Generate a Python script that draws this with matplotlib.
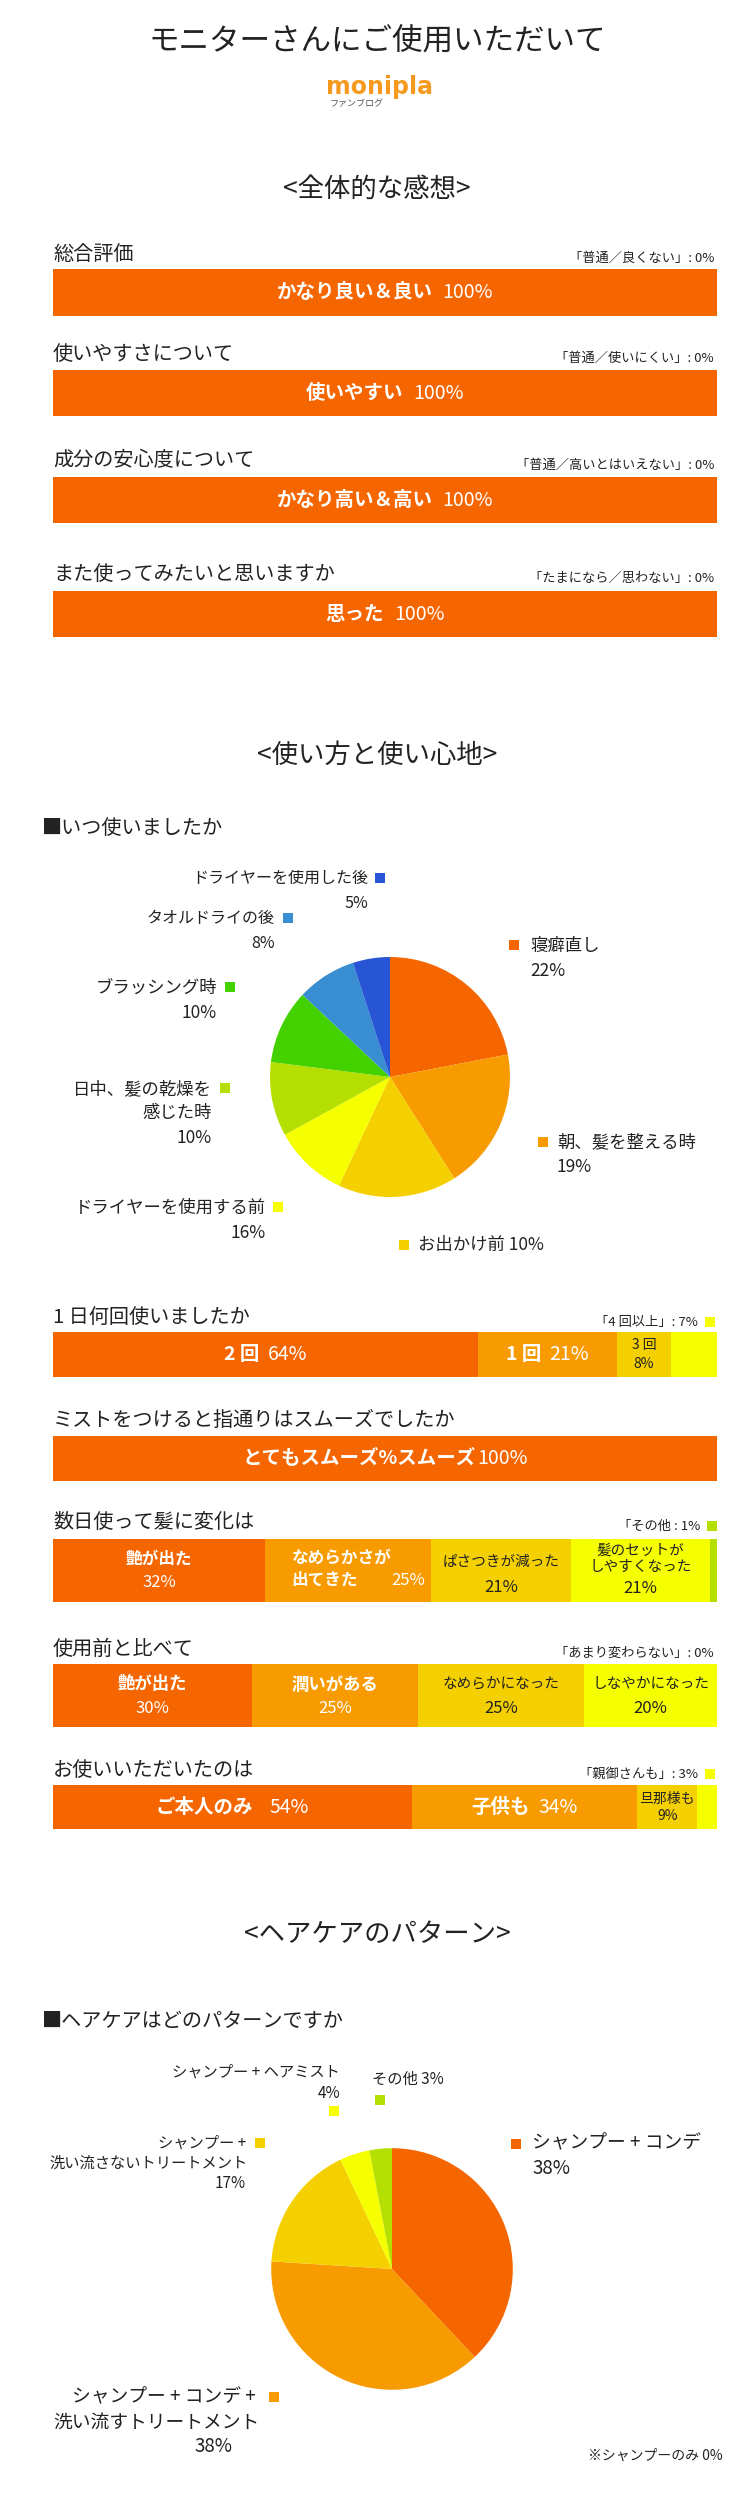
import matplotlib
matplotlib.use("Agg")
import matplotlib.pyplot as plt
import numpy as np

plt.rcParams['font.family'] = 'Noto Sans CJK JP'

W, H = 755, 2507
ORANGE = '#F56600'; LORANGE = '#F79B00'; GOLD = '#F5D000'; YELLOW = '#F5FF00'
YGREEN = '#B5DF00'; GREEN = '#44D100'; BLUE = '#388ED0'; DBLUE = '#2855D5'
DARK = '#222222'

# ---------------- data ----------------
overall_questions = ['総合評価', '使いやすさについて', '成分の安心度について', 'また使ってみたいと思いますか']
overall_answers = ['かなり良い＆良い', '使いやすい', 'かなり高い＆高い', '思った']
overall_values = [100, 100, 100, 100]
overall_notes = ['「普通／良くない」: 0%', '「普通／使いにくい」: 0%',
                 '「普通／高いとはいえない」: 0%', '「たまになら／思わない」: 0%']

when_values = [22, 19, 16, 10, 10, 10, 8, 5]
when_colors = [ORANGE, LORANGE, GOLD, YELLOW, YGREEN, GREEN, BLUE, DBLUE]

times_labels = ['2 回', '1 回', '3 回', '4回以上']
times_values = [64, 21, 8, 7]

smooth_labels = ['とてもスムーズ%スムーズ']
smooth_values = [100]

change_labels = ['艶が出た', 'なめらかさが\n出てきた', 'ぱさつきが減った', '髪のセットが\nしやすくなった', 'その他']
change_values = [32, 25, 21, 21, 1]

compare_labels = ['艶が出た', '潤いがある', 'なめらかになった', 'しなやかになった']
compare_values = [30, 25, 25, 20]

who_labels = ['ご本人のみ', '子供も', '旦那様も', '親御さんも']
who_values = [54, 34, 9, 3]

care_values = [38, 38, 17, 4, 3]
care_colors = [ORANGE, LORANGE, GOLD, YELLOW, YGREEN]

fig = plt.figure(figsize=(W / 100, H / 100), dpi=100)
fig.patch.set_facecolor('white')
ov = fig.add_axes([0, 0, 1, 1], zorder=10)
ov.set_xlim(0, W); ov.set_ylim(H, 0); ov.axis('off'); ov.patch.set_alpha(0)
R = fig.canvas.get_renderer()


def T(x, y, s, size, ha='left', va='center', color=DARK, weight='normal', **kw):
    return ov.text(x, y, s, fontsize=size, ha=ha, va=va, color=color, weight=weight, **kw)


def width_px(t):
    return t.get_window_extent(R).width


def two_part(cx, cy, bold, normal, size, color, gap=8, nsize=None):
    t1 = T(0, cy, bold, size, color=color, weight='bold')
    t2 = T(0, cy, normal, nsize or size, color=color)
    w1, w2 = width_px(t1), width_px(t2)
    x0 = cx - (w1 + gap + w2) / 2
    t1.set_x(x0); t2.set_x(x0 + w1 + gap)


def marker(x, y, c, s=10):
    ov.add_patch(plt.Rectangle((x - s / 2, y - s / 2), s, s, color=c, lw=0))


def bar_axes(y0, y1, values, colors):
    ax = fig.add_axes([53 / W, 1 - y1 / H, 664 / W, (y1 - y0) / H])
    ax.set_xlim(0, sum(values)); ax.set_ylim(-0.5, 0.5); ax.axis('off')
    left = np.concatenate([[0], np.cumsum(values)[:-1]])
    ax.barh(0, values, left=left, height=1.0, color=colors, lw=0)
    centers = []
    for l, v in zip(left, values):
        dx, dy = ax.transData.transform((l + v / 2, 0))
        px, py = ov.transData.inverted().transform((dx, dy))
        centers.append((px, py))
    return centers


NOTE = 9.5
PL = 12.5

# ---------------- header ----------------
T(377, 42, 'モニターさんにご使用いただいて', 22, ha='center')
T(380, 87, 'monipla', 17, ha='center', color='#F59A1F', weight='bold', family='DejaVu Sans')
T(330, 104, 'ファンブログ', 6.5, ha='left', color='#555555')
T(377, 189, '<全体的な感想>', 19, ha='center')

# ---------------- overall ----------------
ov_rows = [(254, 269, 316), (354, 370, 416), (461, 477, 523), (574, 591, 637)]
for (ly, y0, y1), q, a, v, n in zip(ov_rows, overall_questions, overall_answers, overall_values, overall_notes):
    T(53, ly, q, 14.5)
    T(714, ly + 4, n, NOTE, ha='right')
    c = bar_axes(y0, y1, [v], [ORANGE])
    two_part(c[0][0], c[0][1], a, f'{v}%', 14, 'white', gap=10)

# ---------------- usage ----------------
T(377, 755, '<使い方と使い心地>', 19, ha='center')
T(42, 828, '■いつ使いましたか', 14.5)

pax = fig.add_axes([(390 - 150) / W, 1 - (1077 + 150) / H, 300 / W, 300 / H])
pax.pie(when_values, colors=when_colors, startangle=90, counterclock=False,
        wedgeprops=dict(lw=0))
pax.set_aspect('equal')

T(368, 878, 'ドライヤーを使用した後', 11.5, ha='right'); marker(380, 878, DBLUE)
T(368, 903, '5%', 11.5, ha='right')
T(275, 918, 'タオルドライの後', 11.5, ha='right'); marker(288, 918, BLUE)
T(275, 943, f'{when_values[6]}%', 11.5, ha='right')
T(217, 988, 'ブラッシング時', PL, ha='right'); marker(230, 987, GREEN)
T(217, 1013, f'{when_values[5]}%', PL, ha='right')
T(212, 1089, '日中、髪の乾燥を', PL, ha='right'); marker(225, 1088, YGREEN)
T(212, 1113, '感じた時', PL, ha='right')
T(212, 1138, f'{when_values[4]}%', PL, ha='right')
T(266, 1208, 'ドライヤーを使用する前', PL, ha='right'); marker(278, 1207, YELLOW)
T(266, 1233, '16%', PL, ha='right')
marker(404, 1245, GOLD); T(418, 1245, 'お出かけ前 10%', PL)
marker(543, 1142, LORANGE); T(557, 1142, '朝、髪を整える時', PL)
T(557, 1167, f'{when_values[1]}%', PL)
marker(514, 945, ORANGE); T(530, 946, '寝癖直し', PL)
T(530, 971, f'{when_values[0]}%', PL)

# 1日何回
T(53, 1317, '1 日何回使いましたか', 14.5)
T(698, 1322, f'「4 回以上」: {times_values[3]}%', NOTE, ha='right'); marker(710, 1322, YELLOW)
c = bar_axes(1332, 1377, times_values, [ORANGE, LORANGE, GOLD, YELLOW])
two_part(c[0][0], c[0][1], times_labels[0], f'{times_values[0]}%', 14, 'white')
two_part(c[1][0], c[1][1], times_labels[1], f'{times_values[1]}%', 14, 'white')
T(c[2][0], c[2][1] - 9, times_labels[2], 10, ha='center')
T(c[2][0], c[2][1] + 9, f'{times_values[2]}%', 10, ha='center')

# ミスト
T(53, 1420, 'ミストをつけると指通りはスムーズでしたか', 14.5)
c = bar_axes(1436, 1481, smooth_values, [ORANGE])
two_part(c[0][0], c[0][1], smooth_labels[0], f'{smooth_values[0]}%', 14, 'white', gap=2)

# 数日
T(53, 1522, '数日使って髪に変化は', 14.5)
T(700, 1526, f'「その他 : {change_values[4]}%', NOTE, ha='right'); marker(712, 1526, YGREEN)
c = bar_axes(1539, 1602, change_values, [ORANGE, LORANGE, GOLD, YELLOW, YGREEN])
T(c[0][0], c[0][1] - 12, change_labels[0], 12, ha='center', color='white', weight='bold')
T(c[0][0], c[0][1] + 12, f'{change_values[0]}%', 12, ha='center', color='white')
T(c[1][0] - 57, c[1][1] - 2, change_labels[1], 12, ha='left', color='white', weight='bold', linespacing=1.3)
T(c[1][0] + 43, c[1][1] + 10, f'{change_values[1]}%', 12, ha='left', color='white')
T(c[2][0], c[2][1] - 9, change_labels[2], 10.5, ha='center')
T(c[2][0], c[2][1] + 17, f'{change_values[2]}%', 12, ha='center')
T(c[3][0], c[3][1] - 12, change_labels[3], 10.5, ha='center', linespacing=1.2)
T(c[3][0], c[3][1] + 18, f'{change_values[3]}%', 12, ha='center')

# 使用前
T(53, 1649, '使用前と比べて', 14.5)
T(714, 1653, '「あまり変わらない」: 0%', NOTE, ha='right')
c = bar_axes(1664, 1727, compare_values, [ORANGE, LORANGE, GOLD, YELLOW])
for i, (lab, v) in enumerate(zip(compare_labels, compare_values)):
    if i < 2:
        T(c[i][0], c[i][1] - 11, lab, 12.5, ha='center', color='white', weight='bold')
        T(c[i][0], c[i][1] + 13, f'{v}%', 12, ha='center', color='white')
    else:
        T(c[i][0], c[i][1] - 11, lab, 10.5, ha='center')
        T(c[i][0], c[i][1] + 13, f'{v}%', 12, ha='center')

# お使い
T(53, 1770, 'お使いいただいたのは', 14.5)
T(698, 1774, f'「{who_labels[3]}」: {who_values[3]}%', NOTE, ha='right'); marker(710, 1774, YELLOW)
c = bar_axes(1785, 1829, who_values, [ORANGE, LORANGE, GOLD, YELLOW])
two_part(c[0][0], c[0][1], who_labels[0], f'{who_values[0]}%', 14, 'white', gap=16)
two_part(c[1][0], c[1][1], who_labels[1], f'{who_values[1]}%', 14, 'white', gap=8)
T(c[2][0], c[2][1] - 8, who_labels[2], 10, ha='center')
T(c[2][0], c[2][1] + 9, f'{who_values[2]}%', 10, ha='center')

# ---------------- hair care ----------------
T(377, 1935, '<ヘアケアのパターン>', 19, ha='center')
T(42, 2021, '■ヘアケアはどのパターンですか', 14.5)
pax2 = fig.add_axes([(392 - 151) / W, 1 - (2269 + 151) / H, 302 / W, 302 / H])
pax2.pie(care_values, colors=care_colors, startangle=90, counterclock=False,
         wedgeprops=dict(lw=0))
pax2.set_aspect('equal')

T(340, 2072, 'シャンプー + ヘアミスト', 11, ha='right')
T(340, 2093, f'{care_values[3]}%', 11, ha='right'); marker(334, 2111, YELLOW)
T(372, 2079, f'その他 {care_values[4]}%', 11); marker(380, 2100, YGREEN)
T(246, 2143, 'シャンプー +', 11, ha='right'); marker(260, 2143, GOLD)
T(248, 2163, '洗い流さないトリートメント', 11, ha='right')
T(246, 2183, f'{care_values[2]}%', 11, ha='right')
marker(516, 2144, ORANGE); T(532, 2143, 'シャンプー + コンデ', 13.5)
T(532, 2168, f'{care_values[0]}%', 13.5)
T(256, 2397, 'シャンプー + コンデ +', 13.5, ha='right'); marker(274, 2397, LORANGE)
T(260, 2422, '洗い流すトリートメント', 13.5, ha='right')
T(213, 2446, f'{care_values[1]}%', 13.5, ha='center')
T(723, 2456, '※シャンプーのみ 0%', 10, ha='right')

fig.savefig('out.png', dpi=100, facecolor='white')
